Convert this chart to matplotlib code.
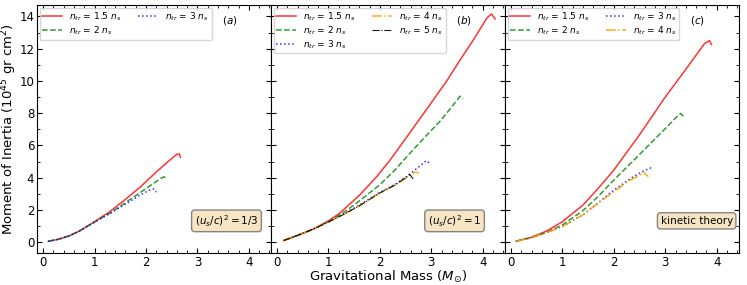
import numpy as np
import matplotlib
matplotlib.use('Agg')
import matplotlib.pyplot as plt
from matplotlib.ticker import MultipleLocator

# panel (a): (u_s/c)^2 = 1/3
a_m15 = [0.1, 0.3, 0.5, 0.7, 1.0, 1.3, 1.6, 1.9, 2.2, 2.45, 2.6, 2.65, 2.67]
a_i15 = [0.05, 0.18, 0.38, 0.68, 1.27, 1.9, 2.65, 3.45, 4.35, 5.05, 5.45, 5.47, 5.25]
a_m2 = [0.1, 0.3, 0.5, 0.7, 1.0, 1.3, 1.6, 1.9, 2.15, 2.3, 2.36, 2.4]
a_i2 = [0.05, 0.18, 0.38, 0.68, 1.25, 1.8, 2.45, 3.1, 3.65, 3.98, 4.05, 3.85]
a_m3 = [0.1, 0.3, 0.5, 0.7, 1.0, 1.3, 1.6, 1.85, 2.05, 2.15, 2.2]
a_i3 = [0.05, 0.18, 0.38, 0.68, 1.24, 1.78, 2.35, 2.85, 3.2, 3.3, 3.1]

# panel (b): (u_s/c)^2 = 1
b_m15 = [0.13, 0.4, 0.7, 1.0, 1.22, 1.6, 1.94, 2.2, 2.45, 2.9, 3.3, 3.56, 3.85, 4.08, 4.17, 4.24]
b_i15 = [0.1, 0.42, 0.8, 1.32, 1.8, 2.9, 4.07, 5.1, 6.2, 8.2, 10.0, 11.3, 12.7, 13.9, 14.15, 13.85]
b_m2 = [0.13, 0.4, 0.7, 1.0, 1.3, 1.6, 2.0, 2.3, 2.58, 2.9, 3.17, 3.4, 3.56, 3.62]
b_i2 = [0.1, 0.42, 0.8, 1.28, 1.85, 2.55, 3.56, 4.5, 5.5, 6.6, 7.5, 8.4, 9.05, 8.9]
b_m3 = [0.13, 0.4, 0.7, 1.0, 1.3, 1.6, 2.0, 2.3, 2.52, 2.75, 2.9, 2.97]
b_i3 = [0.1, 0.42, 0.8, 1.25, 1.75, 2.3, 3.1, 3.6, 4.07, 4.65, 5.05, 4.9]
b_m4 = [0.13, 0.4, 0.7, 1.0, 1.3, 1.6, 2.0, 2.3, 2.55, 2.68, 2.76]
b_i4 = [0.1, 0.42, 0.8, 1.25, 1.73, 2.25, 3.05, 3.55, 4.05, 4.34, 4.3]
b_m5 = [0.13, 0.4, 0.7, 1.0, 1.3, 1.6, 2.0, 2.3, 2.5, 2.58, 2.66]
b_i5 = [0.1, 0.42, 0.8, 1.25, 1.73, 2.25, 3.05, 3.55, 4.0, 4.2, 3.87]

# panel (c): kinetic theory
c_m15 = [0.1, 0.4, 0.7, 1.0, 1.4, 1.7, 2.0, 2.52, 3.0, 3.43, 3.76, 3.86, 3.9]
c_i15 = [0.06, 0.3, 0.7, 1.27, 2.3, 3.35, 4.47, 6.75, 9.0, 10.85, 12.3, 12.5, 12.25]
c_m2 = [0.1, 0.4, 0.7, 1.0, 1.4, 1.7, 2.0, 2.52, 3.0, 3.2, 3.3, 3.35]
c_i2 = [0.06, 0.28, 0.62, 1.07, 1.95, 2.85, 3.85, 5.5, 7.04, 7.7, 7.98, 7.8]
c_m3 = [0.1, 0.4, 0.7, 1.0, 1.4, 1.7, 2.0, 2.4, 2.6, 2.72, 2.76]
c_i3 = [0.06, 0.27, 0.6, 0.97, 1.7, 2.45, 3.23, 4.1, 4.45, 4.6, 4.47]
c_m4 = [0.1, 0.4, 0.7, 1.0, 1.4, 1.7, 2.0, 2.3, 2.5, 2.6, 2.67]
c_i4 = [0.06, 0.27, 0.6, 0.97, 1.7, 2.42, 3.13, 3.8, 4.15, 4.3, 4.05]

styles = {
    '1.5': dict(color='red', ls='-', alpha=0.8),
    '2': dict(color='green', ls='--', alpha=0.8),
    '3': dict(color='blue', ls=':', alpha=0.8),
    '4': dict(color='orange', ls='-.', alpha=0.9),
    '5': dict(color='black', ls='-.', alpha=0.9, lw=0.8),
}

panels = [
    ('(a)', r'$(u_s/c)^2=1/3$', (0.81, 0.13),
     [('1.5', a_m15, a_i15), ('2', a_m2, a_i2), ('3', a_m3, a_i3)]),
    ('(b)', r'$(u_s/c)^2=1$', (0.785, 0.13),
     [('1.5', b_m15, b_i15), ('2', b_m2, b_i2), ('3', b_m3, b_i3),
      ('4', b_m4, b_i4), ('5', b_m5, b_i5)]),
    ('(c)', 'kinetic theory', (0.82, 0.13),
     [('1.5', c_m15, c_i15), ('2', c_m2, c_i2), ('3', c_m3, c_i3), ('4', c_m4, c_i4)]),
]

fig, axes = plt.subplots(1, 3, figsize=(7.47, 2.85), dpi=100, sharey=True)
fig.subplots_adjust(left=0.0495, right=0.989, bottom=0.112, top=0.982, wspace=0)

for ax, (tag, box, boxpos, curves) in zip(axes, panels):
    for key, m, i in curves:
        st = dict(lw=1.1)
        st.update(styles[key])
        ax.plot(m, i, label=r'$n_{tr}$ = ' + key + r' $n_s$', **st)
    ax.set_xlim(-0.12, 4.43)
    ax.set_ylim(-0.68, 14.7)
    ax.xaxis.set_major_locator(MultipleLocator(1))
    ax.xaxis.set_minor_locator(MultipleLocator(0.2))
    ax.yaxis.set_major_locator(MultipleLocator(2))
    ax.yaxis.set_minor_locator(MultipleLocator(1))
    ax.tick_params(which='both', direction='in', top=True, right=True, labelsize=8.5, pad=2)
    ax.tick_params(which='major', length=3.5)
    ax.tick_params(which='minor', length=2)
    ax.text(0.825, 0.94, '$' + tag + '$', transform=ax.transAxes, ha='center', va='center', fontsize=7.5)
    ax.text(boxpos[0], boxpos[1], box, transform=ax.transAxes, ha='center', va='center', fontsize=7.5,
            bbox=dict(boxstyle='round', facecolor='wheat', alpha=0.8, edgecolor='dimgray'))
    ax.legend(loc='upper left', ncol=2, fontsize=6.5, handlelength=2.2, columnspacing=1.8,
              labelspacing=0.15, borderpad=0.3, borderaxespad=0.3)

axes[0].set_ylabel(r'Moment of Inertia ($10^{45}$ gr cm$^2$)', fontsize=9.5, labelpad=0.5)
axes[1].set_xlabel(r'Gravitational Mass ($M_{\odot}$)', fontsize=9.5, labelpad=0)

plt.savefig('out.png', dpi=100)
